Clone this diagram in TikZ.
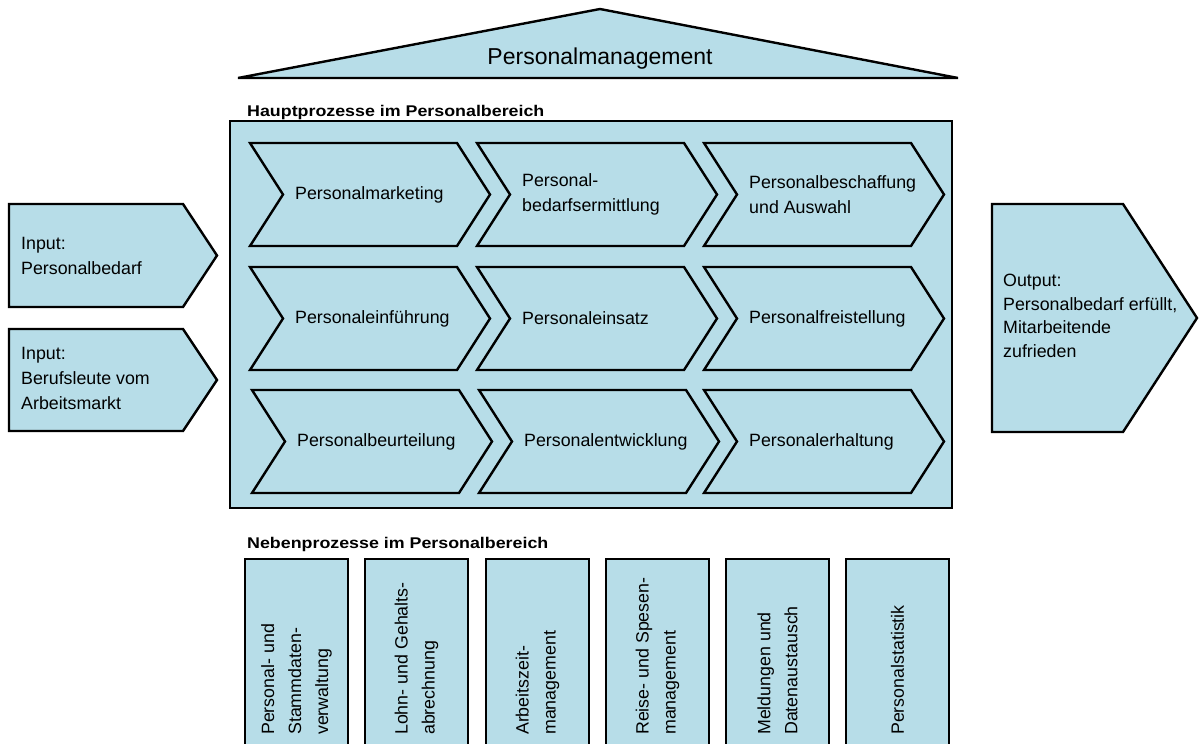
\documentclass[tikz,border=0pt]{standalone}
\usepackage{fontspec}
\setmainfont{Liberation Sans}
\definecolor{pfill}{RGB}{183,221,232}
\newcommand\mychev[4]{%
  \path[shp] (#1,#2) -- ++(207,0) -- ++(33,51.5) -- ++(-33,51.5) -- ++(-207,0) -- ++(33,-51.5) -- cycle;
  \node[lbl] (#3) at (#1+45,#2+51.5) {#4};}
\newcommand\myside[4]{%
  \path[shp] (#1,559) rectangle (#1+103,760);
  \node[rlbl] (#2) at (#1+51.5,735) {#3\\#4};}
\begin{document}
\begin{tikzpicture}[x=1pt,y=-1pt,
  shp/.style={draw=black,fill=pfill,line width=2.4pt,line join=miter},
  lbl/.style={anchor=west,align=left,inner sep=0pt,font=\fontsize{17.8}{25}\selectfont},
  rlbl/.style={anchor=west,align=left,inner sep=0pt,rotate=90,font=\fontsize{17.8}{27}\selectfont},
  hdr/.style={anchor=base west,inner sep=0pt,font=\fontsize{15.5}{18}\selectfont\bfseries}]
\useasboundingbox (0,0) rectangle (1199,744);
\begin{scope}
\clip (0,0) rectangle (1199,744);
% roof
\path[shp] (238,78) -- (600,9) -- (958,78) -- cycle;
\node[font=\fontsize{23}{28}\selectfont] (pm) at (600,59) {Personalmanagement};
% headers
\node[hdr] (hp) at (247,116) {\scalebox{1.15}[1]{Hauptprozesse im Personalbereich}};
\node[hdr] (np) at (247,548) {\scalebox{1.15}[1]{Nebenprozesse im Personalbereich}};
% main box
\path[shp] (230,121) rectangle (952,508);
% chevrons
\mychev{250}{143}{c11}{Personalmarketing}
\mychev{477}{143}{c12}{Personal-\\bedarfsermittlung}
\mychev{704}{143}{c13}{Personalbeschaffung\\und Auswahl}
\mychev{250}{267}{c21}{Personaleinführung}
\mychev{477}{267}{c22}{Personaleinsatz}
\mychev{704}{267}{c23}{Personalfreistellung}
\mychev{252}{390}{c31}{Personalbeurteilung}
\mychev{479}{390}{c32}{Personalentwicklung}
\mychev{704}{390}{c33}{Personalerhaltung}
% inputs
\path[shp] (9,204) -- (183,204) -- (217,255.5) -- (183,307) -- (9,307) -- cycle;
\node[lbl] (in1) at (21,256) {Input:\\Personalbedarf};
\path[shp] (9,329) -- (183,329) -- (217,380) -- (183,431) -- (9,431) -- cycle;
\node[lbl] (in2) at (21,378) {Input:\\Berufsleute vom\\Arbeitsmarkt};
% output
\path[shp] (992,204) -- (1123,204) -- (1197,318) -- (1123,432) -- (992,432) -- cycle;
\node[lbl,font=\fontsize{17.8}{23.5}\selectfont] (out) at (1003,316) {Output:\\Personalbedarf erfüllt,\\Mitarbeitende\\zufrieden};
% side processes
\myside{245}{s1}{Personal- und\\Stammdaten-}{verwaltung}
\myside{365}{s2}{Lohn- und Gehalts-}{abrechnung}
\myside{486}{s3}{Arbeitszeit-}{management}
\myside{606}{s4}{Reise- und Spesen-}{management}
\myside{726}{s5}{Meldungen und}{Datenaustausch}
\path[shp] (846,559) rectangle (949,760);
\node[rlbl] (s6) at (897.5,735) {Personalstatistik};
\end{scope}
\end{tikzpicture}
\end{document}
